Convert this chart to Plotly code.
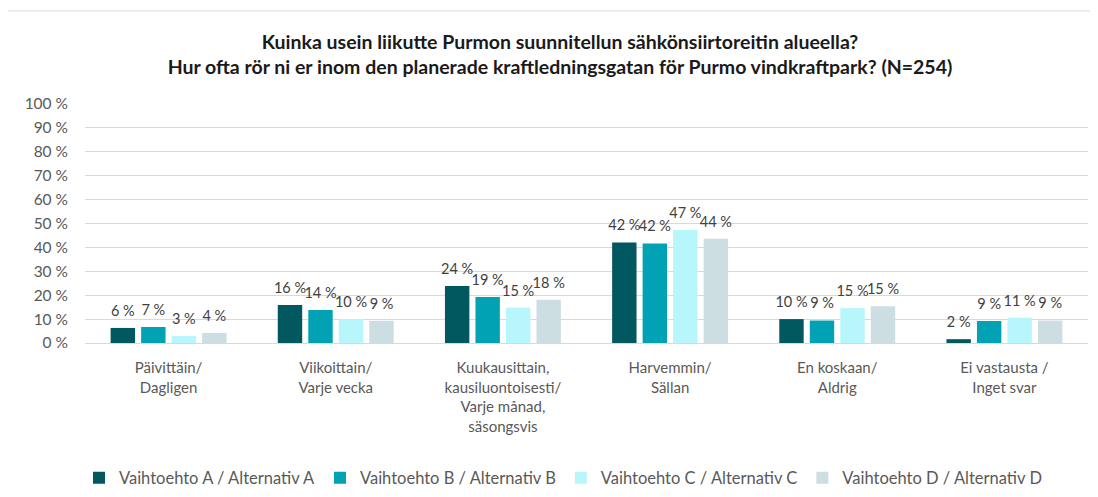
import plotly.graph_objects as go

categories = [
    "Päivittäin/<br>Dagligen",
    "Viikoittain/<br>Varje vecka",
    "Kuukausittain,<br>kausiluontoisesti/<br>Varje månad,<br>säsongsvis",
    "Harvemmin/<br>Sällan",
    "En koskaan/<br>Aldrig",
    "Ei vastausta /<br>Inget svar",
]
series_names = [
    "Vaihtoehto A / Alternativ A",
    "Vaihtoehto B / Alternativ B",
    "Vaihtoehto C / Alternativ C",
    "Vaihtoehto D / Alternativ D",
]
values_a = [6.3, 15.9, 23.8, 42.0, 10.0, 1.6]
values_b = [6.7, 13.8, 19.2, 41.6, 9.4, 9.2]
values_c = [2.9, 10.0, 14.8, 47.3, 14.6, 10.6]
values_d = [4.2, 9.3, 18.1, 43.6, 15.4, 9.4]
colors = ["#02585F", "#00A2B3", "#B7F6FB", "#CDDEE2"]

title_text = ("<b>Kuinka usein liikutte Purmon suunnitellun sähkönsiirtoreitin alueella?<br>"
              "Hur ofta rör ni er inom den planerade kraftledningsgatan för Purmo vindkraftpark? (N=254)</b>")

FONT = "Lato, sans-serif"

# page body has an 8px margin, so the figure is laid out 8px smaller
W, H = 1090, 489
L, T, R, B = 77, 96, 10, 154
PW, PH = W - L - R, H - T - B
GAP = 0.27

fig = go.Figure()
all_vals = [values_a, values_b, values_c, values_d]
for i, (name, vals, col) in enumerate(zip(series_names, all_vals, colors)):
    fig.add_trace(go.Bar(
        x=categories, y=vals, name=name, offsetgroup=str(i),
        marker=dict(color=col, line=dict(width=0)),
        hoverinfo="skip",
    ))
for i, (name, vals) in enumerate(zip(series_names, all_vals)):
    fig.add_trace(go.Scatter(
        x=categories, y=vals, offsetgroup=str(i), mode="markers+text",
        marker=dict(size=12, opacity=0),
        text=[f"{v:.0f} %" for v in vals], textposition="top center",
        textfont=dict(size=14.5, color="#404040", family=FONT),
        showlegend=False, hoverinfo="skip", cliponaxis=False,
    ))

fig.update_layout(
    width=W, height=H,
    margin=dict(l=L, r=R, t=T, b=B, autoexpand=False),
    paper_bgcolor="white", plot_bgcolor="white",
    barmode="group", bargap=GAP, bargroupgap=0.2,
    scattermode="group", scattergap=GAP,
    font=dict(family=FONT, color="#595959"),
    title=dict(text=title_text, x=552/W, xanchor="center", xref="container",
               y=1-41/H, yanchor="middle", yref="container",
               font=dict(size=19.5, color="#1a1a1a", family=FONT)),
    legend=dict(orientation="h", x=555/W, xanchor="center", xref="container",
                y=1-470/H, yanchor="middle", yref="container",
                font=dict(size=16.5, color="#595959", family=FONT), itemwidth=30,
                traceorder="normal"),
    yaxis=dict(range=[0, 100], dtick=10, ticksuffix=" %", showgrid=True,
               gridcolor="#d9d9d9", gridwidth=1, zeroline=False,
               tickfont=dict(size=15.5, color="#595959"), ticks="",
               ticklabelstandoff=16, fixedrange=True),
    xaxis=dict(showline=True, linecolor="#d9d9d9", linewidth=1, ticks="",
               tickfont=dict(size=15, color="#595959"), tickangle=0,
               ticklabelstandoff=11),
    shapes=[dict(type="rect", xref="paper", yref="paper",
                 x0=(-2-L)/PW, x1=(W+20-L)/PW, y0=-(H+20-T-PH)/PH, y1=(T+PH-3)/PH,
                 line=dict(color="#d9d9d9", width=1), fillcolor="rgba(0,0,0,0)", layer="below")],
)

fig.write_html("out.html")
